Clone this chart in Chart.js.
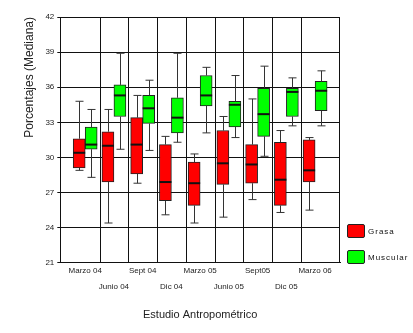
<!DOCTYPE html>
<html lang="es">
<head>
  <meta charset="UTF-8">
  <title>Estudio Antropométrico</title>
  <script src="https://cdn.jsdelivr.net/npm/chart.js"></script>
  <style>
    body { margin: 0; background: #fff; font-family: "Liberation Sans", Arial, sans-serif; }
    #wrap { position: relative; width: 413px; height: 333px; }
    .ley { position: absolute; left: 347px; display: flex; align-items: center; font-size: 8px; letter-spacing: 1px; color: #111; }
    .ley span { display: inline-block; width: 16px; height: 12px; border: 1px solid #222; border-radius: 2px; margin-right: 3px; }
  </style>
</head>
<body>

<div id="wrap">
  <canvas id="grafico"></canvas>
  <div class="ley" style="top: 224px;"><span style="background:#ff0000"></span>Grasa</div>
  <div class="ley" style="top: 250px;"><span style="background:#00ff00"></span>Muscular</div>
</div>

<script>
  const etiquetas = ['Marzo 04', 'Junio 04', 'Sept 04', 'Dic 04', 'Marzo 05', 'Junio 05', 'Sept05', 'Dic 05', 'Marzo 06'];

  // Grasa (rojo)
  const grasaMin = [28.9, 24.4, 27.8, 25.1, 24.4, 24.9, 26.4, 25.3, 25.5];
  const grasaQ1  = [29.1, 27.9, 28.6, 26.3, 25.9, 27.7, 27.8, 25.9, 27.9];
  const grasaMed = [30.4, 31.0, 31.1, 27.9, 27.8, 29.5, 29.4, 28.1, 28.9];
  const grasaQ3  = [31.6, 32.2, 33.4, 31.1, 29.6, 32.3, 31.1, 31.3, 31.5];
  const grasaMax = [34.8, 34.1, 35.3, 31.8, 30.3, 33.5, 35.0, 32.3, 31.7];

  // Muscular (verde)
  const muscMin = [28.3, 30.7, 30.6, 31.3, 32.1, 31.7, 30.1, 32.7, 32.7];
  const muscQ1  = [30.7, 33.5, 32.9, 32.1, 34.4, 32.6, 31.8, 33.5, 34.0];
  const muscMed = [31.1, 35.3, 34.2, 33.4, 35.3, 34.5, 33.7, 35.6, 35.7];
  const muscQ3  = [32.6, 36.2, 35.3, 35.1, 37.0, 34.8, 35.9, 35.9, 36.5];
  const muscMax = [34.1, 38.9, 36.6, 38.9, 37.7, 37.0, 37.8, 36.8, 37.4];

  const fuente = '"Liberation Sans", Arial, sans-serif';

  function cajas(q1, q3, min, med, max) {
    return etiquetas.map((e, i) => ({ x: i, y: [q1[i], q3[i]], min: min[i], med: med[i], max: max[i] }));
  }

  // bigotes, medianas y separadores verticales
  const extrasCaja = {
    id: 'extrasCaja',
    beforeDatasetsDraw(chart) {
      const { ctx, chartArea, scales } = chart;
      ctx.save();
      ctx.strokeStyle = '#111';
      ctx.lineWidth = 1;
      for (let k = 0; k < etiquetas.length - 1; k++) {
        const px = Math.round(scales.x.getPixelForValue(k + 0.5)) + 0.5;
        ctx.beginPath();
        ctx.moveTo(px, chartArea.top);
        ctx.lineTo(px, chartArea.bottom);
        ctx.stroke();
      }
      const r = Math.round(chartArea.right) - 0.5;
      ctx.beginPath();
      ctx.moveTo(r, chartArea.top);
      ctx.lineTo(r, chartArea.bottom);
      ctx.stroke();
      ctx.restore();
    },
    afterDatasetsDraw(chart) {
      const { ctx, scales } = chart;
      const y = scales.y;
      ctx.save();
      chart.data.datasets.forEach((ds, d) => {
        const meta = chart.getDatasetMeta(d);
        meta.data.forEach((bar, i) => {
          const p = ds.data[i];
          const cx = Math.round(bar.x) + 0.5;
          const mitad = bar.width / 2;
          const yMax = y.getPixelForValue(p.max);
          const yMin = y.getPixelForValue(p.min);
          const yQ3 = y.getPixelForValue(p.y[1]);
          const yQ1 = y.getPixelForValue(p.y[0]);
          ctx.strokeStyle = '#333';
          ctx.lineWidth = 1;
          ctx.beginPath();
          ctx.moveTo(cx, yQ3); ctx.lineTo(cx, yMax);
          ctx.moveTo(cx, yQ1); ctx.lineTo(cx, yMin);
          ctx.moveTo(cx - 4, yMax); ctx.lineTo(cx + 4, yMax);
          ctx.moveTo(cx - 4, yMin); ctx.lineTo(cx + 4, yMin);
          ctx.stroke();
          const yMed = y.getPixelForValue(p.med);
          ctx.strokeStyle = '#111';
          ctx.lineWidth = 2;
          ctx.beginPath();
          ctx.moveTo(bar.x - mitad, yMed);
          ctx.lineTo(bar.x + mitad, yMed);
          ctx.stroke();
        });
      });
      ctx.restore();
    }
  };

  new Chart(document.getElementById('grafico'), {
    type: 'bar',
    data: {
      datasets: [
        {
          label: 'Grasa',
          data: cajas(grasaQ1, grasaQ3, grasaMin, grasaMed, grasaMax),
          backgroundColor: '#ff0000',
          borderColor: '#222',
          borderWidth: 1,
          borderSkipped: false,
          barThickness: 12
        },
        {
          label: 'Muscular',
          data: cajas(muscQ1, muscQ3, muscMin, muscMed, muscMax),
          backgroundColor: '#00ff00',
          borderColor: '#222',
          borderWidth: 1,
          borderSkipped: false,
          barThickness: 12
        }
      ]
    },
    options: {
      responsive: true,
      maintainAspectRatio: false,
      animation: false,
      layout: { padding: { left: 22, right: 73, top: 17, bottom: 11 } },
      plugins: {
        legend: { display: false },
        tooltip: { enabled: false }
      },
      scales: {
        x: {
          type: 'linear',
          offset: false,
          min: -0.866,
          max: 8.866,
          afterBuildTicks: (eje) => { eje.ticks = etiquetas.map((e, i) => ({ value: i })); },
          grid: { display: false, drawTicks: false, offset: false },
          border: { display: true, color: '#111', width: 1 },
          ticks: {
            autoSkip: false,
            maxRotation: 0,
            padding: 0,
            color: '#222',
            font: { family: fuente, size: 8, lineHeight: 2 },
            callback: (v) => (v % 2 === 0 ? etiquetas[v] : ['', etiquetas[v]])
          },
          title: {
            display: true,
            text: 'Estudio Antropométrico',
            color: '#222',
            font: { family: fuente, size: 11 },
            padding: { top: 14, bottom: 0 }
          }
        },
        y: {
          min: 21,
          max: 42,
          ticks: {
            stepSize: 3,
            color: '#222',
            padding: 3,
            font: { family: fuente, size: 8 }
          },
          grid: { color: '#111', tickLength: 3 },
          border: { color: '#111' },
          title: {
            display: true,
            text: 'Porcentajes (Mediana)',
            align: 'end',
            color: '#222',
            font: { family: fuente, size: 12 },
            padding: { top: 0, bottom: 6 }
          }
        }
      }
    },
    plugins: [extrasCaja]
  });
</script>

</body>
</html>
